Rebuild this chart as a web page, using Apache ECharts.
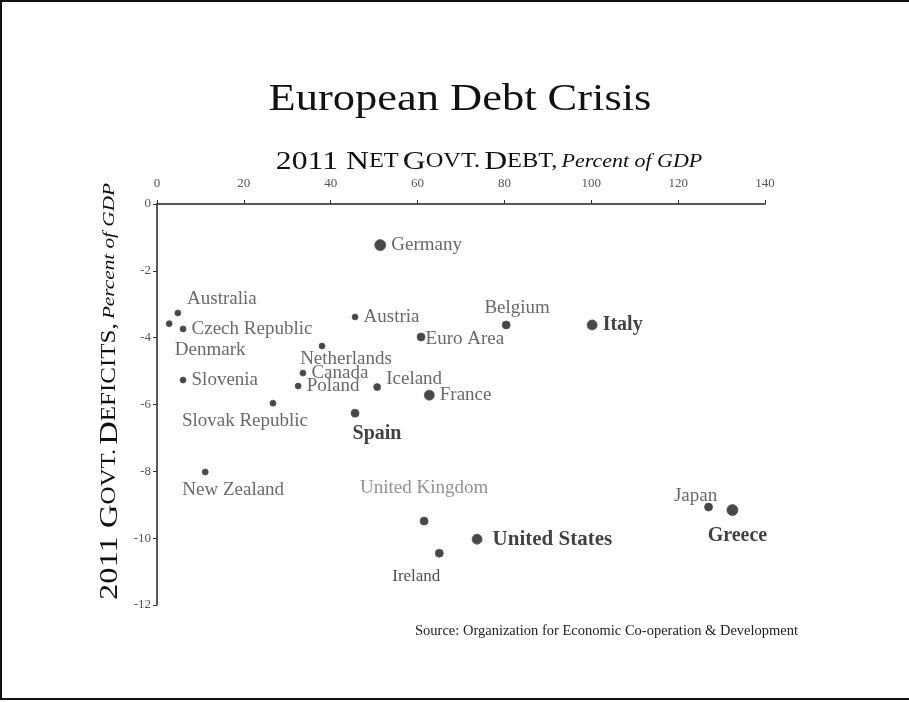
<!DOCTYPE html>
<html>
<head>
<meta charset="utf-8">
<script src="https://cdn.jsdelivr.net/npm/echarts@6/dist/echarts.min.js"></script>
<style>html,body{margin:0;padding:0;background:#fff}#c{width:909px;height:702px}</style>
</head>
<body>
<div id="c"></div>
<script>
// ---- data ----
const countries = ["Germany","Australia","Denmark","Czech Republic","Slovenia","Slovak Republic","Netherlands","Canada","Poland","Iceland","Spain","Austria","Euro Area","Belgium","France","Italy","New Zealand","United Kingdom","Ireland","United States","Japan","Greece"];
const netDebt  = [51.4, 4.8, 2.8, 6.0, 6.0, 26.7, 38.0, 33.6, 32.5, 50.7, 45.6, 45.6, 60.8, 80.4, 62.7, 100.2, 11.1, 61.5, 65.0, 73.7, 127.0, 132.5];
const deficits = [-1.23, -3.26, -3.58, -3.74, -5.27, -5.96, -4.25, -5.06, -5.45, -5.48, -6.26, -3.38, -3.98, -3.62, -5.72, -3.62, -8.02, -9.49, -10.45, -10.03, -9.07, -9.16];
const xTicks = [0, 20, 40, 60, 80, 100, 120, 140];
const yTicks = [0, -2, -4, -6, -8, -10, -12];

// ---- styling (not data) ----
const serif = '"Liberation Serif", "DejaVu Serif", serif';
const boldSet = {"Spain":1, "Italy":1, "United States":1, "Greece":1};
const bigDot = {"Germany":11, "Italy":10, "France":10, "Greece":11, "United States":10, "Euro Area":8, "Belgium":8, "Spain":8, "Ireland":8, "United Kingdom":8, "Japan":8, "Iceland":7};
const labelSize = {"United States": 21, "Ireland": 17};
const labelPlace = {
  "Australia": ["top", [44, 4]],
  "Denmark": ["bottom", [41, 8]],
  "Slovak Republic": ["bottom", [-28, 0]],
  "Netherlands": ["bottom", [24, -5]],
  "Iceland": ["right", [0, -8]],
  "Spain": ["bottom", [22, 1]],
  "Belgium": ["top", [11, 2]],
  "New Zealand": ["bottom", [28, 0]],
  "United Kingdom": ["top", [0, -14]],
  "Ireland": ["bottom", [-23, 5]],
  "Japan": ["top", [-13, 8]],
  "Greece": ["bottom", [5, 5]],
  "Euro Area": ["right", [-5, 2]],
  "United States": ["right", [5, 0]]
};

const data = countries.map((n, i) => {
  const lp = labelPlace[n] || ["right", [0, 0]];
  const bold = !!boldSet[n];
  return {
    name: n,
    value: [netDebt[i], deficits[i]],
    symbolSize: bigDot[n] || 6,
    label: {
      show: true,
      formatter: n,
      position: lp[0],
      distance: 5,
      fontFamily: serif,
      fontSize: labelSize[n] || (bold ? 20 : 19),
      fontWeight: bold ? 'bold' : 'normal',
      color: bold ? '#111' : (n === 'United Kingdom' ? '#777' : (n === 'Ireland' ? '#222' : '#444'))
    }
  };
});

const chart = echarts.init(document.getElementById('c'));
chart.setOption({
  backgroundColor: '#fff',
  animation: false,
  grid: { left: 157, top: 204, right: 144, bottom: 97 },
  xAxis: {
    type: 'value', position: 'top', min: xTicks[0], max: xTicks[xTicks.length - 1], interval: 20,
    axisLine: { onZero: false, lineStyle: { color: '#222', width: 1.5 } },
    axisTick: { show: true, inside: false, length: 4, lineStyle: { color: '#333' } },
    splitLine: { show: false },
    axisLabel: { margin: 14, fontFamily: serif, fontSize: 13, color: '#555' }
  },
  yAxis: {
    type: 'value', min: yTicks[yTicks.length - 1], max: yTicks[0], interval: 2,
    axisLine: { onZero: false, show: true, lineStyle: { color: '#222', width: 1.5 } },
    axisTick: { show: true, length: 4, lineStyle: { color: '#333' } },
    splitLine: { show: false },
    axisLabel: { margin: 6, fontFamily: serif, fontSize: 13, color: '#555' }
  },
  series: [{
    type: 'scatter',
    data: data,
    itemStyle: { color: '#1a1a1a', borderColor: '#555', borderWidth: 1 },
    labelLayout: function (p) {
      const n = countries[p.dataIndex];
      const lp = labelPlace[n];
      if (!lp) return {};
      return { dx: lp[1][0], dy: lp[1][1] };
    }
  }],
  graphic: [
    { type: 'rect', shape: { x: 1, y: 1, width: 1200, height: 698 }, style: { fill: 'none', stroke: '#111', lineWidth: 2 }, silent: true },
    { type: 'text', x: 460, y: 81, scaleX: 1.17, style: { text: 'European Debt Crisis', font: '38px ' + serif, fill: '#111', align: 'center', verticalAlign: 'top' } },
    { type: 'text', x: 489, y: 149, scaleX: 1.22, style: {
        text: '{b|2011 N}{s|ET} {b|G}{s|OVT.} {b|D}{s|EBT,} {i|Percent of GDP}',
        align: 'center', verticalAlign: 'top',
        rich: {
          b: { fontFamily: serif, fontSize: 26, fill: '#111', color: '#111' },
          s: { fontFamily: serif, fontSize: 20, fill: '#111', color: '#111' },
          i: { fontFamily: serif, fontSize: 18, fontStyle: 'italic', fill: '#111', color: '#111' }
        }
      } },
    { type: 'text', x: 97, y: 600, rotation: Math.PI / 2, scaleX: 1.25, style: {
        text: '{b|2011 G}{s|OVT.} {b|D}{s|EFICITS,} {i|Percent of GDP}',
        align: 'left', verticalAlign: 'top',
        rich: {
          b: { fontFamily: serif, fontSize: 26, fill: '#111', color: '#111' },
          s: { fontFamily: serif, fontSize: 20, fill: '#111', color: '#111' },
          i: { fontFamily: serif, fontSize: 17, fontStyle: 'italic', fill: '#111', color: '#111' }
        }
      } },
    { type: 'text', left: 415, top: 624, style: { text: 'Source: Organization for Economic Co-operation & Development', font: '14.5px ' + serif, fill: '#222' } }
  ]
});
</script>
</body>
</html>
